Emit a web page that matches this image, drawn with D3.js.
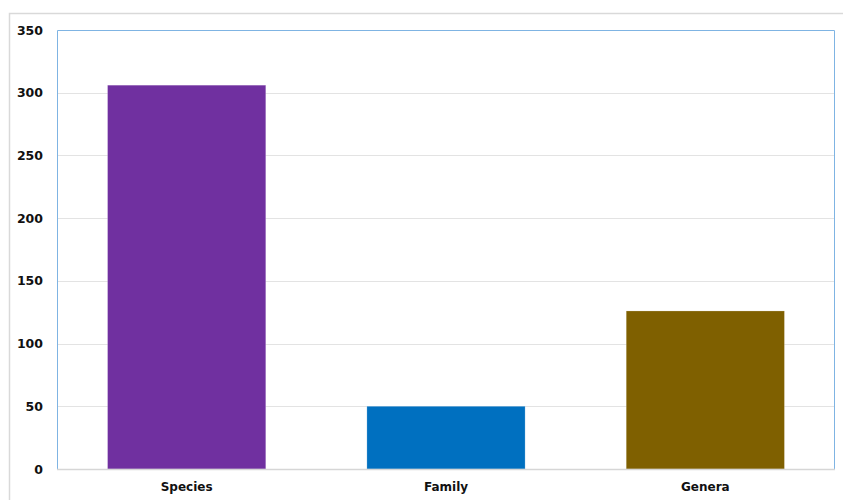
<!DOCTYPE html>
<html><head><meta charset="utf-8">
<script src="https://cdn.jsdelivr.net/npm/d3@7"></script>
<style>body{margin:0;background:#fff}svg{display:block}</style>
</head><body>
<svg id="c" width="843" height="500"></svg>
<script>
const categories = ["Species", "Family", "Genera"];
const values = [306, 50, 126];
const colors = ["#7030A0", "#0070C0", "#7F6000"];
const yTicks = [0, 50, 100, 150, 200, 250, 300, 350];

const svg = d3.select("#c");
const m = {l: 57, t: 30, r: 835, b: 469};
const font = "'DejaVu Sans', Verdana, sans-serif";

// outer frame
svg.append("path").attr("d", "M9.5,500 V13.5 H843")
  .attr("fill", "none").attr("stroke", "#d9d9d9").attr("stroke-width", 1.5);

const x = d3.scaleBand().domain(categories).range([m.l, m.r]).paddingInner(0.39).paddingOuter(0.195);
const y = d3.scaleLinear().domain([0, 350]).range([m.b, m.t]);

// gridlines
svg.append("g").selectAll("line").data(yTicks.filter(d => d > 0 && d < 350)).join("line")
  .attr("x1", m.l).attr("x2", m.r)
  .attr("y1", d => Math.round(y(d)) + 0.5).attr("y2", d => Math.round(y(d)) + 0.5)
  .attr("stroke", "#e3e3e3").attr("stroke-width", 1);

// plot border (light blue)
svg.append("path").attr("d", `M${m.l + 0.5},${m.b} V${m.t + 0.5} H${m.r - 0.5} V${m.b}`)
  .attr("fill", "none").attr("stroke", "#7fb4e3").attr("stroke-width", 1);

// bars
svg.append("g").selectAll("rect").data(categories).join("rect")
  .attr("x", d => x(d)).attr("width", x.bandwidth())
  .attr("y", (d, i) => y(values[i])).attr("height", (d, i) => y(0) - y(values[i]))
  .attr("fill", (d, i) => colors[i])
  .attr("stroke", "rgba(255,255,255,0.25)").attr("stroke-width", 0.8);

// x axis line
svg.append("line").attr("x1", m.l).attr("x2", m.r)
  .attr("y1", m.b + 0.5).attr("y2", m.b + 0.5)
  .attr("stroke", "#d6d6d6").attr("stroke-width", 1.5);

// y axis
const ya = d3.axisLeft(y).tickValues(yTicks).tickSize(0).tickPadding(14);
const gy = svg.append("g").attr("transform", `translate(${m.l},0)`).call(ya);
gy.select(".domain").remove();
gy.selectAll("text").attr("font-family", font).attr("font-size", 12.5)
  .attr("font-weight", "bold").attr("fill", "#111");

// x axis labels
const xa = d3.axisBottom(x).tickSize(0).tickPadding(13);
const gx = svg.append("g").attr("transform", `translate(0,${m.b})`).call(xa);
gx.select(".domain").remove();
gx.selectAll("text").attr("font-family", font).attr("font-size", 12)
  .attr("font-weight", "bold").attr("fill", "#111");
</script>
</body></html>
